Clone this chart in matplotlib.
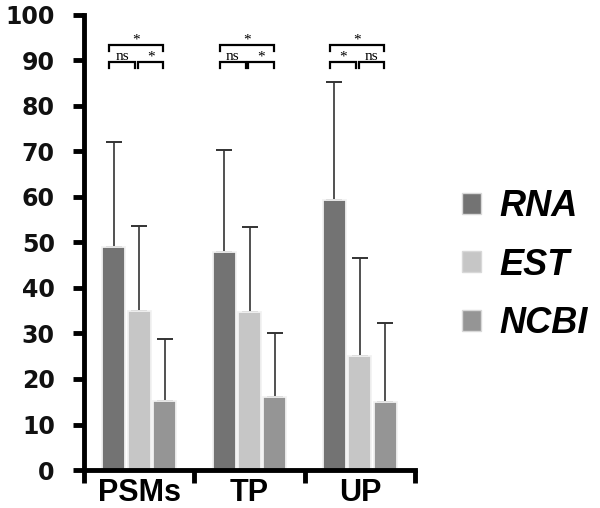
import matplotlib
matplotlib.use("Agg")
import matplotlib.pyplot as plt
import numpy as np

categories = ["PSMs", "TP", "UP"]
series = ["RNA", "EST", "NCBI"]
rna = [49.1, 48.0, 59.3]
est = [34.9, 34.8, 25.1]
ncbi = [15.2, 16.1, 15.0]
rna_top = [72.0, 70.3, 85.2]
est_top = [53.7, 53.3, 46.5]
ncbi_top = [28.8, 30.2, 32.3]
sig_upper = ["*", "*", "*"]
sig_lower_left = ["ns", "ns", "*"]
sig_lower_right = ["*", "*", "ns"]
yticks = [0, 10, 20, 30, 40, 50, 60, 70, 80, 90, 100]

colors = ["#737373", "#c6c6c6", "#959595"]

fig = plt.figure(figsize=(6.0, 5.08), dpi=100)
ax = fig.add_axes([0.14, 0.0748, 0.5517, 0.8957])

x = np.arange(len(categories))
offs = [-0.23, 0.0, 0.23]
width = 0.21
vals = [rna, est, ncbi]
tops = [rna_top, est_top, ncbi_top]
handles = []
for i in range(3):
    v = np.array(vals[i])
    t = np.array(tops[i])
    b = ax.bar(x + offs[i], v, width, color=colors[i], edgecolor="#f2f2f2",
               linewidth=1.3, label=series[i], zorder=2)
    handles.append(b)
    ax.errorbar(x + offs[i], v, yerr=[np.zeros_like(v), t - v], fmt="none",
                ecolor="#333333", elinewidth=1.2, capsize=5.5, capthick=1.4, zorder=1)

# significance brackets
def bracket(x0, x1, y, label):
    leg = 1.2
    ax.plot([x0, x0, x1, x1], [y - leg, y, y, y - leg], color="black",
            lw=1.6, solid_joinstyle="miter", clip_on=False, zorder=3)
    ax.text((x0 + x1) / 2, y - 0.2, label, ha="center", va="bottom",
            fontsize=11, family="Liberation Serif", zorder=3)

for i in range(3):
    c = x[i]
    bracket(c - 0.27, c + 0.22, 93.3, sig_upper[i])
    bracket(c - 0.27, c - 0.035, 89.6, sig_lower_left[i])
    bracket(c - 0.01, c + 0.22, 89.6, sig_lower_right[i])

ax.set_xlim(-0.5, 2.5)
ax.set_ylim(0, 100)
ax.spines["top"].set_visible(False)
ax.spines["right"].set_visible(False)
for s in ["left", "bottom"]:
    ax.spines[s].set_linewidth(3.5)
    ax.spines[s].set_capstyle("projecting")

ax.set_yticks(yticks)
ax.set_yticklabels([str(t) for t in yticks], fontsize=17, fontweight="bold",
                   family="DejaVu Sans", color="#111111")
ax.tick_params(axis="y", direction="out", length=8, width=3.5, pad=13)

ax.set_xticks([-0.5, 0.5, 1.5, 2.5])
ax.set_xticklabels([])
ax.set_xticks(x, minor=True)
ax.set_xticklabels(categories, minor=True, fontsize=22, fontweight="bold",
                   family="Liberation Sans")
ax.tick_params(axis="x", which="major", direction="out", length=9, width=3.5)
ax.tick_params(axis="x", which="minor", length=0, pad=6)

leg = fig.legend(handles=handles, labels=series, loc="center left",
                 bbox_to_anchor=(0.74, 0.478), frameon=False,
                 prop={"family": "Liberation Sans", "weight": "bold",
                       "style": "italic", "size": 26},
                 handlelength=0.52, handleheight=0.52, handletextpad=0.5,
                 labelspacing=0.65, borderpad=0)
for h in leg.legend_handles:
    h.set_edgecolor("#d8d8d8")
    h.set_linewidth(1.0)

fig.savefig("out.png", dpi=100, facecolor="white")
